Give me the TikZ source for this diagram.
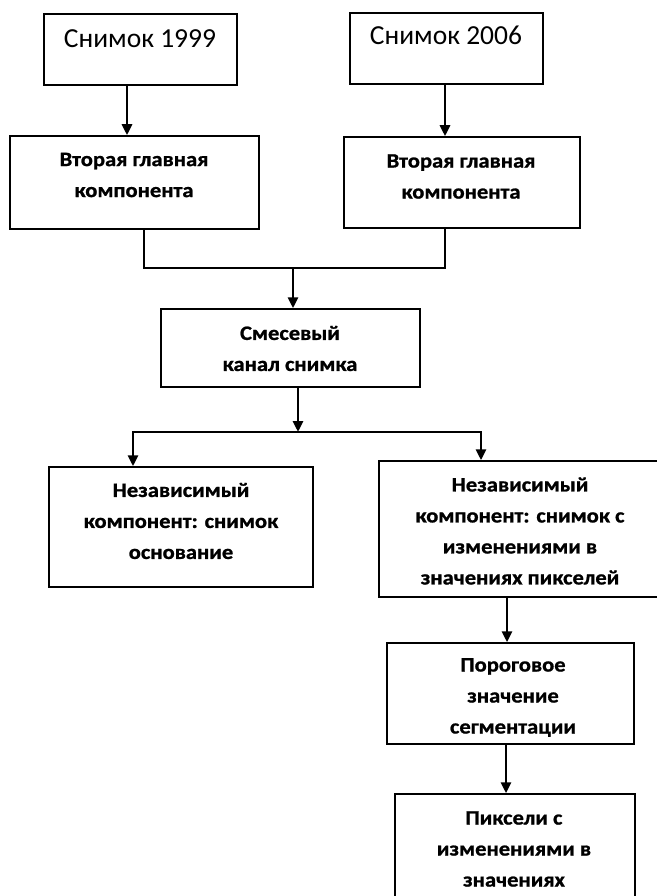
\documentclass[tikz,border=0pt]{standalone}
\usepackage{fontspec}
\setmainfont{Carlito}
\newfontfamily\bfont[FakeStretch=1.1,FakeBold=1]{Carlito}
\usetikzlibrary{arrows.meta}
\begin{document}
\begin{tikzpicture}[x=1pt,y=-1pt,
  box/.style={draw, line width=1.5pt, rectangle, inner sep=0pt},
  conn/.style={line width=2.8pt},
  arr/.style={line width=2.8pt, -{Triangle[width=10pt,length=11pt]}},
  btxt/.style={font=\bfont\bfseries\fontsize{20.5}{31}\selectfont, align=center, inner sep=0pt},
  rtxt/.style={font=\fontsize{27.5}{33}\selectfont, inner sep=0pt}]
\useasboundingbox (0,0) rectangle (656,896);
\fill[white] (0,0) rectangle (656,896);

% boxes
\node[box, minimum width=193pt, minimum height=71pt] (b1) at (140.5,49.5) {};
\node[box, minimum width=193pt, minimum height=71pt] (b2) at (446.5,48.5) {};
\node[box, minimum width=249pt, minimum height=93pt] (b3) at (134.5,182.5) {};
\node[box, minimum width=236pt, minimum height=91pt] (b4) at (462,182.5) {};
\node[box, minimum width=259pt, minimum height=78pt] (b5) at (290.5,348) {};
\node[box, minimum width=264pt, minimum height=120pt] (b6) at (181,527) {};
\node[box, minimum width=282pt, minimum height=136pt] (b7) at (520,529) {};
\node[box, minimum width=247pt, minimum height=101pt] (b8) at (510.5,693.5) {};
\node[box, minimum width=240pt, minimum height=112pt] (b9) at (515,850) {};

% texts
\node[rtxt, anchor=base] (t1) at (140,48) {Снимок 1999};
\node[rtxt, anchor=base] (t2) at (446,45) {Снимок 2006};
\node[btxt] (t3) at (134,175) {Вторая главная\\компонента};
\node[btxt] (t4) at (461,176.5) {Вторая главная\\компонента};
\node[btxt] (t5) at (290,348.5) {Смесевый\\канал снимка};
\node[btxt] (t6) at (181,521) {Независимый\\компонент: снимок\\основание};
\node[btxt] (t7) at (520,531) {Независимый\\компонент: снимок с\\изменениями в\\значениях пикселей};
\node[btxt] (t8) at (513,697.5) {Пороговое\\значение\\сегментации};
\node[btxt] (t9) at (514,849) {Пиксели с\\изменениями в\\значениях};

% helper coordinates
\coordinate (x1) at (127,0);
\coordinate (x2) at (445,0);
\coordinate (xL) at (144,0);
\coordinate (xR) at (445,0);
\coordinate (j1) at (293,268);
\coordinate (j2) at (298,432);
\coordinate (xl2) at (133,0);
\coordinate (xr2) at (481,0);
\coordinate (x7) at (507,0);
\coordinate (x8) at (506,0);

% connectors
\draw[arr] (b1.south -| x1) -- (b3.north -| x1);
\draw[arr] (b2.south -| x2) -- (b4.north -| x2);
\draw[conn] (b3.south -| xL) |- (j1) -| (b4.south -| xR);
\draw[arr] (j1) -- (b5.north -| j1);
\draw[arr] (b5.south -| j2) -- (j2);
\draw[arr] (j2) -| (b6.north -| xl2);
\draw[arr] (j2) -| (b7.north -| xr2);
\draw[arr] (b7.south -| x7) -- (b8.north -| x7);
\draw[arr] (b8.south -| x8) -- (b9.north -| x8);
\end{tikzpicture}
\end{document}
